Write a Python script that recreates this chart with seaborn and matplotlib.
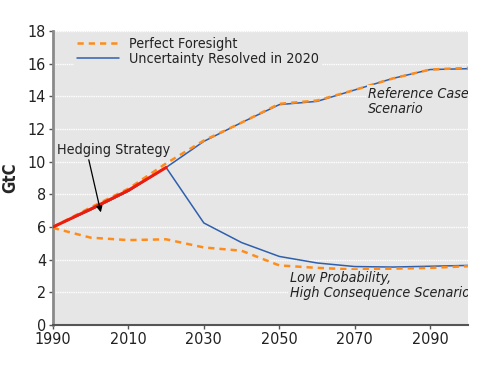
import numpy as np
import pandas as pd
import seaborn as sns
import matplotlib.pyplot as plt
from matplotlib.lines import Line2D

# Years (decadal)
years = [1990, 2000, 2010, 2020, 2030, 2040, 2050, 2060, 2070, 2080, 2090, 2100]

# Perfect foresight, reference case and low probability case
pf_reference = [6.0, 7.2, 8.35, 9.9, 11.3, 12.4, 13.55, 13.75, 14.4, 15.1, 15.65, 15.75]
pf_low = [5.95, 5.35, 5.2, 5.25, 4.75, 4.55, 3.65, 3.5, 3.4, 3.45, 3.5, 3.6]

# Uncertainty resolved in 2020 (hedging until 2020, then branches)
ur_reference = [6.0, 7.05, 8.2, 9.65, 11.25, 12.4, 13.5, 13.7, 14.4, 15.1, 15.65, 15.7]
ur_low = [6.0, 7.05, 8.2, 9.65, 6.25, 5.05, 4.2, 3.8, 3.58, 3.55, 3.6, 3.65]

# Hedging strategy (1990-2020)
hedge_years = [1990, 2000, 2010, 2020]
hedge_values = [6.0, 7.1, 8.25, 9.65]

BG = '#e6e6e6'
ORANGE = '#ff8c1a'
BLUE = '#2f5fad'
RED = '#ee1c0c'
FS = 10.3

sns.set_theme(style='white')
plt.rcParams['font.family'] = ['DejaVu Sans']
plt.rcParams['font.stretch'] = 'condensed'

fig = plt.figure(figsize=(4.9, 3.71), dpi=100)
ax = fig.add_axes([0.108, 0.124, 0.847, 0.792])
ax.set_facecolor(BG)

df_ur = pd.DataFrame({'year': years * 2,
                      'value': ur_reference + ur_low,
                      'case': ['ref'] * len(years) + ['low'] * len(years)})
df_pf = pd.DataFrame({'year': years * 2,
                      'value': pf_reference + pf_low,
                      'case': ['ref'] * len(years) + ['low'] * len(years)})

sns.lineplot(data=df_ur, x='year', y='value', units='case', estimator=None,
             color=BLUE, lw=1.1, ax=ax, zorder=3)
sns.lineplot(data=df_pf, x='year', y='value', units='case', estimator=None,
             color=ORANGE, lw=1.8, ax=ax, zorder=4)
for line in ax.lines[-2:]:
    line.set_dashes([2.5, 2.0])
sns.lineplot(x=hedge_years, y=hedge_values, color=RED, lw=2.2, ax=ax, zorder=5)

ax.set_xlim(1990, 2100)
ax.set_ylim(0, 18)
ax.set_xticks(range(1990, 2100, 20))
ax.set_yticks(range(0, 19, 2))
ax.set_xlabel('')
ax.set_ylabel('GtC', fontsize=12, fontweight='bold', labelpad=6)
ax.grid(axis='y', color='white', lw=1.0, ls=(0, (1, 0.6)), zorder=1)
ax.set_axisbelow(True)

for side in ['top', 'right']:
    ax.spines[side].set_visible(False)
ax.spines['left'].set_color('#8a8a8a')
ax.spines['left'].set_linewidth(2)
ax.spines['bottom'].set_color('#555555')
ax.spines['bottom'].set_linewidth(1.5)
ax.tick_params(axis='both', direction='out', length=3, width=1, colors='#555555',
               labelcolor='#222222', labelsize=11.5, pad=2, bottom=True, left=True)

# Legend
handles = [Line2D([], [], color=ORANGE, lw=1.8, dashes=[2.5, 2.0]),
           Line2D([], [], color=BLUE, lw=1.1)]
leg = ax.legend(handles, ['Perfect Foresight', 'Uncertainty Resolved in 2020'],
                loc='upper left', bbox_to_anchor=(0.045, 0.998), frameon=True,
                fontsize=FS, handlelength=2.9, handletextpad=0.7,
                labelspacing=0.05, borderpad=0.2, borderaxespad=0.2)
leg.get_frame().set_facecolor(BG)
leg.get_frame().set_edgecolor('none')
leg.get_frame().set_alpha(1)
for t in leg.get_texts():
    t.set_color('#222222')

box = dict(facecolor=BG, edgecolor='none', pad=1)
ax.text(2073.6, 14.6, 'Reference Case\nScenario', fontsize=FS, style='italic',
        color='#222222', va='top', ha='left', linespacing=1.1, bbox=box,
        zorder=6, clip_on=True)
ax.text(2052.8, 3.3, 'Low Probability,\nHigh Consequence Scenario', fontsize=FS,
        style='italic', color='#222222', va='top', ha='left', linespacing=1.1,
        bbox=box, zorder=6, clip_on=True)
ax.annotate('Hedging Strategy', xy=(2002.7, 6.9), xytext=(1991.2, 10.75),
            fontsize=FS, color='#222222', va='center', ha='left',
            arrowprops=dict(arrowstyle='-|>', color='black', lw=0.9,
                            shrinkA=0, shrinkB=0, mutation_scale=9,
                            relpos=(0.27, 0)),
            zorder=6)

fig.savefig('out.png', dpi=100)
